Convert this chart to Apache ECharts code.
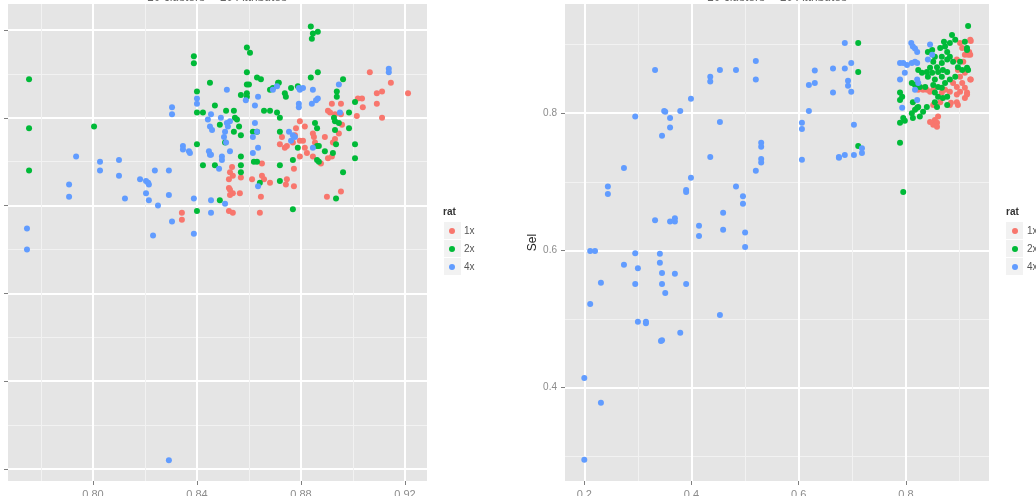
<!DOCTYPE html>
<html><head><meta charset="utf-8">
<script src="https://cdn.jsdelivr.net/npm/echarts@6/dist/echarts.min.js"></script>
<style>html,body{margin:0;padding:0;background:#fff}#c{width:1036px;height:496px}</style>
</head><body><div id="c"></div><script>
const seriesNames = ['1x', '2x', '4x'];
const panelTitles = ['10 clusters -- 10 Attributes', '10 clusters -- 10 Attributes'];
const legendTitle = 'rat';
const rightYName = 'Sel';

// tick values
const leftXMajor = [0.80, 0.84, 0.88, 0.92];
const leftXMinor = [0.78, 0.82, 0.86, 0.90];
const leftYMajor = [0.70, 0.75, 0.80, 0.85, 0.90, 0.95];
const leftYMinor = [0.725, 0.775, 0.825, 0.875, 0.925];
const rightXMajor = [0.2, 0.4, 0.6, 0.8];
const rightXMinor = [0.3, 0.5, 0.7, 0.9];
const rightYMajor = [0.4, 0.6, 0.8];
const rightYMinor = [0.3, 0.5, 0.7, 0.9];

// left panel data
const left1x = [[0.9065,0.926],[0.9146,0.920],[0.9212,0.914],[0.9092,0.914],[0.9112,0.915],[0.9092,0.908],[0.9035,0.911],[0.9038,0.906],[0.9019,0.911],[0.9015,0.901],[0.9112,0.900],[0.8954,0.908],[0.8919,0.908],[0.8904,0.904],[0.8912,0.903],[0.8931,0.902],[0.8954,0.902],[0.8958,0.896],[0.8946,0.891],[0.8892,0.889],[0.8931,0.888],[0.8923,0.886],[0.8904,0.877],[0.8919,0.878],[0.8877,0.874],[0.8846,0.891],[0.8850,0.889],[0.8854,0.886],[0.8815,0.895],[0.8808,0.887],[0.8796,0.887],[0.8815,0.883],[0.8823,0.880],[0.8846,0.878],[0.8796,0.878],[0.8781,0.894],[0.8796,0.898],[0.8777,0.890],[0.8769,0.886],[0.8746,0.884],[0.8738,0.883],[0.8719,0.885],[0.8727,0.889],[0.8773,0.871],[0.8746,0.865],[0.8742,0.862],[0.8773,0.861],[0.8681,0.863],[0.8650,0.874],[0.8650,0.867],[0.8658,0.865],[0.8646,0.855],[0.8642,0.846],[0.8612,0.865],[0.8569,0.866],[0.8565,0.857],[0.8535,0.872],[0.8527,0.869],[0.8538,0.867],[0.8523,0.865],[0.8523,0.860],[0.8527,0.859],[0.8538,0.857],[0.8527,0.856],[0.8523,0.847],[0.8538,0.846],[0.8342,0.846],[0.8342,0.842],[0.8900,0.855],[0.8954,0.858]];
const left2x = [[0.7754,0.922],[0.7754,0.894],[0.7754,0.870],[0.8004,0.895],[0.8388,0.935],[0.8388,0.931],[0.8400,0.915],[0.8450,0.920],[0.8400,0.903],[0.8423,0.903],[0.8469,0.907],[0.8512,0.904],[0.8488,0.896],[0.8508,0.886],[0.8400,0.885],[0.8423,0.873],[0.8469,0.873],[0.8488,0.853],[0.8400,0.847],[0.8592,0.940],[0.8604,0.937],[0.8592,0.926],[0.8592,0.919],[0.8600,0.919],[0.8592,0.914],[0.8592,0.912],[0.8569,0.913],[0.8542,0.904],[0.8546,0.900],[0.8554,0.899],[0.8562,0.895],[0.8542,0.892],[0.8569,0.890],[0.8569,0.878],[0.8569,0.873],[0.8569,0.869],[0.8615,0.892],[0.8631,0.892],[0.8619,0.875],[0.8631,0.875],[0.8642,0.863],[0.8631,0.923],[0.8646,0.922],[0.8681,0.916],[0.8692,0.917],[0.8712,0.920],[0.8715,0.920],[0.8738,0.914],[0.8742,0.912],[0.8658,0.904],[0.8681,0.904],[0.8708,0.903],[0.8719,0.900],[0.8719,0.892],[0.8719,0.873],[0.8719,0.864],[0.8769,0.848],[0.8769,0.876],[0.8788,0.883],[0.8762,0.917],[0.8788,0.918],[0.8838,0.952],[0.8846,0.948],[0.8842,0.945],[0.8865,0.949],[0.8838,0.923],[0.8865,0.926],[0.8854,0.897],[0.8862,0.894],[0.8862,0.884],[0.8869,0.884],[0.8862,0.876],[0.8869,0.875],[0.8892,0.881],[0.8923,0.880],[0.8927,0.900],[0.8931,0.898],[0.8938,0.915],[0.8938,0.912],[0.8931,0.893],[0.8935,0.885],[0.8962,0.922],[0.8962,0.869],[0.8935,0.854],[0.8985,0.903],[0.8985,0.894],[0.9008,0.909],[0.9008,0.885],[0.9008,0.877],[0.8946,0.897]];
const left4x = [[0.9138,0.928],[0.9138,0.926],[0.8946,0.919],[0.8950,0.903],[0.8846,0.916],[0.8842,0.908],[0.8858,0.910],[0.8865,0.911],[0.8792,0.917],[0.8796,0.916],[0.8808,0.917],[0.8792,0.908],[0.8792,0.906],[0.8754,0.892],[0.8769,0.890],[0.8762,0.887],[0.8777,0.889],[0.8846,0.883],[0.8692,0.916],[0.8708,0.918],[0.8635,0.912],[0.8623,0.907],[0.8588,0.910],[0.8623,0.897],[0.8631,0.892],[0.8615,0.889],[0.8635,0.883],[0.8615,0.880],[0.8635,0.861],[0.8515,0.916],[0.8527,0.898],[0.8515,0.897],[0.8519,0.895],[0.8508,0.892],[0.8504,0.889],[0.8512,0.886],[0.8527,0.881],[0.8496,0.878],[0.8496,0.876],[0.8485,0.871],[0.8454,0.902],[0.8442,0.899],[0.8450,0.895],[0.8458,0.893],[0.8492,0.900],[0.8446,0.881],[0.8450,0.879],[0.8454,0.879],[0.8400,0.911],[0.8400,0.908],[0.8304,0.906],[0.8304,0.902],[0.8346,0.884],[0.8346,0.882],[0.8369,0.881],[0.8373,0.880],[0.8238,0.870],[0.8292,0.870],[0.8181,0.865],[0.8204,0.864],[0.8212,0.863],[0.8215,0.862],[0.8204,0.857],[0.8215,0.853],[0.8250,0.850],[0.8123,0.854],[0.8100,0.876],[0.8100,0.867],[0.8027,0.875],[0.8027,0.870],[0.7935,0.878],[0.7908,0.862],[0.7908,0.855],[0.8292,0.856],[0.8304,0.841],[0.8231,0.833],[0.8388,0.854],[0.8388,0.834],[0.8454,0.853],[0.8454,0.846],[0.8508,0.851],[0.7746,0.837],[0.7746,0.825],[0.8292,0.705]];

// right panel data
const right1x = [[0.901,0.902],[0.905,0.895],[0.920,0.907],[0.918,0.889],[0.910,0.885],[0.920,0.885],[0.895,0.878],[0.907,0.875],[0.897,0.863],[0.910,0.859],[0.901,0.853],[0.888,0.844],[0.895,0.838],[0.905,0.844],[0.910,0.837],[0.901,0.831],[0.914,0.830],[0.895,0.827],[0.882,0.831],[0.873,0.834],[0.867,0.830],[0.920,0.849],[0.910,0.822],[0.895,0.816],[0.882,0.812],[0.864,0.816],[0.851,0.812],[0.860,0.795],[0.854,0.790],[0.851,0.783],[0.858,0.786],[0.830,0.837],[0.839,0.834],[0.845,0.831],[0.921,0.905],[0.916,0.885],[0.921,0.849],[0.914,0.827],[0.897,0.812],[0.884,0.815],[0.851,0.834],[0.832,0.834],[0.823,0.834],[0.845,0.787],[0.858,0.780]];
const right2x = [[0.711,0.902],[0.711,0.860],[0.711,0.752],[0.795,0.685],[0.916,0.927],[0.886,0.914],[0.871,0.904],[0.914,0.895],[0.914,0.866],[0.789,0.830],[0.793,0.824],[0.789,0.819],[0.789,0.786],[0.795,0.793],[0.789,0.757],[0.811,0.800],[0.821,0.808],[0.892,0.907],[0.873,0.897],[0.864,0.895],[0.877,0.889],[0.841,0.889],[0.849,0.892],[0.854,0.882],[0.867,0.882],[0.877,0.878],[0.867,0.873],[0.851,0.875],[0.858,0.867],[0.845,0.866],[0.839,0.860],[0.849,0.859],[0.860,0.860],[0.869,0.863],[0.877,0.860],[0.867,0.853],[0.854,0.849],[0.841,0.853],[0.830,0.859],[0.823,0.863],[0.811,0.844],[0.817,0.841],[0.826,0.838],[0.836,0.838],[0.851,0.841],[0.860,0.838],[0.867,0.837],[0.873,0.844],[0.882,0.849],[0.892,0.853],[0.897,0.867],[0.905,0.863],[0.901,0.875],[0.888,0.875],[0.882,0.882],[0.854,0.830],[0.860,0.824],[0.869,0.822],[0.877,0.824],[0.813,0.816],[0.823,0.809],[0.817,0.805],[0.832,0.802],[0.839,0.809],[0.826,0.795],[0.813,0.793],[0.798,0.789],[0.854,0.816],[0.858,0.809],[0.877,0.812],[0.916,0.863],[0.914,0.892],[0.910,0.904],[0.882,0.902]];
const right4x = [[0.332,0.863],[0.295,0.795],[0.274,0.720],[0.244,0.693],[0.244,0.682],[0.349,0.803],[0.351,0.802],[0.360,0.793],[0.360,0.779],[0.345,0.767],[0.379,0.803],[0.399,0.821],[0.435,0.853],[0.435,0.846],[0.453,0.863],[0.483,0.863],[0.520,0.876],[0.520,0.849],[0.453,0.787],[0.435,0.736],[0.530,0.757],[0.530,0.751],[0.530,0.733],[0.530,0.728],[0.520,0.716],[0.399,0.706],[0.390,0.688],[0.390,0.685],[0.483,0.693],[0.496,0.679],[0.496,0.668],[0.459,0.655],[0.459,0.630],[0.500,0.626],[0.500,0.605],[0.414,0.636],[0.414,0.621],[0.332,0.644],[0.360,0.642],[0.369,0.642],[0.369,0.647],[0.606,0.786],[0.606,0.777],[0.619,0.803],[0.619,0.841],[0.630,0.844],[0.630,0.862],[0.606,0.732],[0.664,0.865],[0.664,0.830],[0.686,0.865],[0.686,0.902],[0.692,0.847],[0.692,0.840],[0.698,0.831],[0.698,0.873],[0.703,0.783],[0.675,0.736],[0.675,0.735],[0.686,0.739],[0.703,0.739],[0.718,0.749],[0.718,0.742],[0.211,0.599],[0.220,0.599],[0.231,0.553],[0.211,0.522],[0.200,0.414],[0.231,0.378],[0.200,0.295],[0.295,0.596],[0.274,0.579],[0.300,0.574],[0.295,0.551],[0.341,0.595],[0.341,0.582],[0.345,0.567],[0.369,0.566],[0.345,0.551],[0.390,0.551],[0.351,0.538],[0.300,0.496],[0.315,0.496],[0.315,0.494],[0.343,0.468],[0.345,0.469],[0.379,0.480],[0.453,0.506],[0.810,0.902],[0.813,0.897],[0.817,0.894],[0.821,0.889],[0.789,0.873],[0.795,0.873],[0.802,0.870],[0.811,0.873],[0.817,0.875],[0.821,0.873],[0.789,0.849],[0.798,0.859],[0.821,0.849],[0.823,0.844],[0.817,0.834],[0.793,0.808],[0.845,0.900],[0.849,0.885],[0.841,0.878],[0.821,0.819]];

const colors = ['#F8766D', '#00BA38', '#619CFF'];
const FONT = '"Liberation Sans", Arial, sans-serif';
const PANEL = '#E5E5E5';

function majorX(grid, min, max, vals, fmt) {
  return { type: 'value', gridIndex: grid, min: min, max: max,
    axisLine: { show: false },
    axisTick: { show: true, length: 4, lineStyle: { color: '#7F7F7F' }, customValues: vals },
    axisLabel: { show: true, customValues: vals, formatter: v => v.toFixed(fmt), fontSize: 11, color: '#8C8C8C', margin: 8, fontFamily: FONT },
    splitLine: { show: true, lineStyle: { color: '#FFFFFF', width: 2 } } };
}
function minorAx(grid, min, max, vals) {
  return { type: 'value', gridIndex: grid, min: min, max: max,
    axisLine: { show: false },
    axisTick: { show: false, customValues: vals },
    axisLabel: { show: false, customValues: vals },
    splitLine: { show: true, lineStyle: { color: '#F2F2F2', width: 1 } } };
}

const L = { xmin: 0.7673, xmax: 0.9285, ymin: 0.6932, ymax: 0.9648 };
const R = { xmin: 0.164, xmax: 0.955, ymin: 0.264, ymax: 0.959 };

const leftYAxis = majorX(0, L.ymin, L.ymax, leftYMajor, 2);
leftYAxis.axisLabel.show = false;
const rightYAxis = majorX(1, R.ymin, R.ymax, rightYMajor, 1);
rightYAxis.axisLabel.margin = 8;
rightYAxis.axisLabel.fontSize = 10;
rightYAxis.name = rightYName;
rightYAxis.nameLocation = 'middle';
rightYAxis.nameGap = 26;
rightYAxis.nameTextStyle = { fontSize: 12, color: '#222', fontFamily: FONT };

const dataSets = [[left1x, left2x, left4x], [right1x, right2x, right4x]];
const series = [];
[0, 1].forEach(p => {
  seriesNames.forEach((n, i) => {
    series.push({ type: 'scatter', name: n, xAxisIndex: p * 2, yAxisIndex: p * 2,
      data: dataSets[p][i], symbolSize: 6, itemStyle: { color: colors[i], opacity: 1 }, z: 3 + i });
  });
});

function legendBoxes(x) {
  return [0, 1, 2].map(k => ({ type: 'rect', left: x, top: 222 + k * 18, shape: { width: 17, height: 17 }, style: { fill: '#F2F2F2' }, z: -1 }));
}
function legend(x) {
  return { orient: 'vertical', left: x, top: 222, data: seriesNames, icon: 'circle', itemWidth: 6, itemHeight: 6, itemGap: 0,
    padding: 0, selectedMode: false,
    textStyle: { fontSize: 10, lineHeight: 18, color: '#555', fontFamily: FONT, padding: [0, 0, 0, 4] } };
}

const option = {
  animation: false,
  backgroundColor: '#FFFFFF',
  textStyle: { fontFamily: FONT },
  grid: [
    { left: 8, top: 4, width: 419, height: 477, show: true, backgroundColor: PANEL, borderWidth: 0, containLabel: false, outerBoundsMode: 'none' },
    { left: 565, top: 4, width: 424, height: 477, show: true, backgroundColor: PANEL, borderWidth: 0, containLabel: false, outerBoundsMode: 'none' }
  ],
  xAxis: [
    majorX(0, L.xmin, L.xmax, leftXMajor, 2),
    minorAx(0, L.xmin, L.xmax, leftXMinor),
    majorX(1, R.xmin, R.xmax, rightXMajor, 1),
    minorAx(1, R.xmin, R.xmax, rightXMinor)
  ],
  yAxis: [
    leftYAxis,
    minorAx(0, L.ymin, L.ymax, leftYMinor),
    rightYAxis,
    minorAx(1, R.ymin, R.ymax, rightYMinor)
  ],
  legend: [legend(449), legend(1012)],
  graphic: [
    ...legendBoxes(444), ...legendBoxes(1006),
    { type: 'text', x: 443, y: 212, style: { text: legendTitle, fontSize: 10, fontWeight: 'bold', fill: '#333', fontFamily: FONT, textVerticalAlign: 'middle' } },
    { type: 'text', x: 1006, y: 212, style: { text: legendTitle, fontSize: 10, fontWeight: 'bold', fill: '#333', fontFamily: FONT, textVerticalAlign: 'middle' } },
    { type: 'text', x: 217, y: -2.5, style: { text: panelTitles[0], fontSize: 12, fill: '#666', fontFamily: FONT, textAlign: 'center', textVerticalAlign: 'middle' } },
    { type: 'text', x: 777, y: -2.5, style: { text: panelTitles[1], fontSize: 12, fill: '#666', fontFamily: FONT, textAlign: 'center', textVerticalAlign: 'middle' } }
  ],
  series: series
};
const chart = echarts.init(document.getElementById('c'), null, { renderer: 'canvas' });
chart.setOption(option);
</script></body></html>
